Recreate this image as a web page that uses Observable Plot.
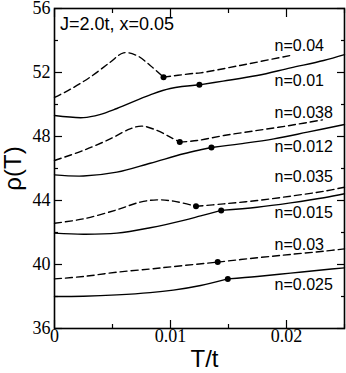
<!DOCTYPE html>
<html><head><meta charset="utf-8">
<script src="https://cdn.jsdelivr.net/npm/d3@7"></script>
<script src="https://cdn.jsdelivr.net/npm/@observablehq/plot@0.6"></script>
<style>html,body{margin:0;padding:0;background:#fff;overflow:hidden}</style>
</head><body><div id="chart"></div>
<script>
// ---- data ----
const title = "J=2.0t, x=0.05";
const xTitle = "T/t";
const yTitle = "ρ(T)";
const xTicks = [0, 0.01, 0.02];
const xTickLabels = ["0", "0.01", "0.02"];
const xMinor = [0.005, 0.015, 0.025];
const yTicks = [36, 40, 44, 48, 52, 56];
const yTickLabels = ["36", "40", "44", "48", "52", "56"];
const yMinor = [38, 42, 46, 50, 54];

const curveNames = ["n=0.04", "n=0.01", "n=0.038", "n=0.012", "n=0.035", "n=0.015", "n=0.03", "n=0.025"];
const curveDashed = [true, false, true, false, true, false, true, false];

const T_n040 = [0, 0.00134, 0.00307, 0.0048, 0.00595, 0.0071, 0.00825, 0.0094, 0.0117, 0.0126, 0.016, 0.0203];
const rho_n040 = [50.44, 50.94, 51.71, 52.64, 53.23, 53.06, 52.44, 51.71, 51.92, 51.98, 52.44, 53.06];
const T_n010 = [0, 0.0025, 0.0039, 0.00538, 0.00825, 0.00998, 0.01249, 0.01453, 0.01747, 0.02035, 0.0232, 0.025];
const rho_n010 = [49.31, 49.18, 49.37, 49.75, 50.6, 51.0, 51.23, 51.46, 51.81, 52.29, 52.75, 53.12];
const T_n038 = [0, 0.00249, 0.0048, 0.00652, 0.00754, 0.00883, 0.00998, 0.0108, 0.0123, 0.0146, 0.0175, 0.0203, 0.0231];
const rho_n038 = [46.5, 47.13, 47.85, 48.48, 48.65, 48.38, 47.96, 47.65, 47.75, 48.06, 48.38, 48.69, 49.04];
const T_n012 = [0, 0.00249, 0.00538, 0.00825, 0.01113, 0.0126, 0.01353, 0.016, 0.01891, 0.0218, 0.025];
const rho_n012 = [45.6, 45.53, 45.77, 46.33, 46.92, 47.17, 47.31, 47.54, 47.85, 48.27, 48.75];
const T_n035 = [0, 0.00249, 0.00538, 0.00739, 0.00883, 0.01027, 0.0122, 0.01459, 0.01747, 0.02035, 0.02323, 0.025];
const rho_n035 = [42.58, 42.85, 43.42, 43.9, 44.04, 43.96, 43.64, 43.79, 44.0, 44.27, 44.58, 44.83];
const T_n015 = [0, 0.00249, 0.00538, 0.00825, 0.01113, 0.0126, 0.01437, 0.01747, 0.02035, 0.02323, 0.025];
const rho_n015 = [41.96, 41.89, 41.96, 42.3, 42.76, 43.04, 43.38, 43.58, 43.85, 44.17, 44.42];
const T_n030 = [0, 0.00249, 0.00538, 0.00825, 0.01024, 0.01407, 0.01747, 0.02035, 0.02323, 0.025];
const rho_n030 = [39.1, 39.25, 39.52, 39.72, 39.87, 40.15, 40.42, 40.63, 40.83, 40.98];
const T_n025 = [0, 0.00249, 0.00538, 0.00825, 0.01024, 0.0126, 0.01494, 0.01747, 0.02035, 0.02323, 0.025];
const rho_n025 = [38.0, 38.02, 38.1, 38.24, 38.4, 38.69, 39.1, 39.25, 39.46, 39.67, 39.79];

const dotT = [0.0094, 0.01249, 0.0108, 0.01353, 0.0122, 0.01437, 0.01407, 0.01494];
const dotRho = [51.71, 51.23, 47.65, 47.31, 43.64, 43.38, 40.15, 39.1];

const labelT = [0.01897, 0.01897, 0.01897, 0.01897, 0.01897, 0.01897, 0.01897, 0.01897];
const labelRho = [53.67, 51.5, 49.45, 47.33, 45.46, 43.2, 41.24, 38.72];

// ---- build tables ----
const curveT = [T_n040, T_n010, T_n038, T_n012, T_n035, T_n015, T_n030, T_n025];
const curveRho = [rho_n040, rho_n010, rho_n038, rho_n012, rho_n035, rho_n015, rho_n030, rho_n025];
const solidPts = [], dashedPts = [];
curveT.forEach((Ts, i) => {
  const target = curveDashed[i] ? dashedPts : solidPts;
  Ts.forEach((t, j) => {
    if (t <= dotT[i]) target.push({T: t, rho: curveRho[i][j], seg: i + "a"});
    if (t >= dotT[i]) target.push({T: t, rho: curveRho[i][j], seg: i + "b"});
  });
});
const dots = dotT.map((t, i) => ({T: t, rho: dotRho[i]}));
const labels = curveNames.map((s, i) => ({T: labelT[i], rho: labelRho[i], text: s}));

const serif = "'Liberation Serif', 'Times New Roman', serif";
const sans = "'Liberation Sans', Arial, sans-serif";

const chart = Plot.plot({
  width: 346,
  height: 373,
  marginLeft: 54,
  marginRight: 2,
  marginTop: 8,
  marginBottom: 45,
  style: {background: "#fff", color: "#000"},
  x: {domain: [0, 0.025]},
  y: {domain: [36, 56]},
  marks: [
    Plot.line(solidPts, {x: "T", y: "rho", z: "seg", curve: "catmull-rom", stroke: "#000", strokeWidth: 1.4}),
    Plot.line(dashedPts, {x: "T", y: "rho", z: "seg", curve: "catmull-rom", stroke: "#000", strokeWidth: 1.4, strokeDasharray: "7,4"}),
    Plot.dot(dots, {x: "T", y: "rho", r: 3, fill: "#000", stroke: "none"}),
    Plot.text(labels, {x: "T", y: "rho", text: "text", textAnchor: "start", lineAnchor: "middle", fontSize: 16, fontFamily: sans, fill: "#000"}),
    Plot.text([title], {frameAnchor: "top-left", dx: 5.5, dy: 15.5, textAnchor: "start", lineAnchor: "middle", fontSize: 18, fontFamily: sans, fill: "#000"}),
    // tick labels
    Plot.axisX({anchor: "bottom", ticks: xTicks, tickSize: 0, tickPadding: 1, tickFormat: d => xTickLabels[xTicks.indexOf(d)], fontSize: 18, fontFamily: serif, label: null}),
    Plot.axisY({anchor: "left", ticks: yTicks, tickSize: 0, tickPadding: 4, tickFormat: d => yTickLabels[yTicks.indexOf(d)], fontSize: 18, fontFamily: serif, label: null}),
    // inward ticks
    Plot.axisX({anchor: "bottom", ticks: xTicks, tickSize: -8, tickFormat: () => "", label: null, strokeWidth: 1.2}),
    Plot.axisX({anchor: "bottom", ticks: xMinor, tickSize: -4, tickFormat: () => "", label: null, strokeWidth: 1.2}),
    Plot.axisX({anchor: "top", ticks: xTicks, tickSize: -8, tickFormat: () => "", label: null, strokeWidth: 1.2}),
    Plot.axisX({anchor: "top", ticks: xMinor, tickSize: -4, tickFormat: () => "", label: null, strokeWidth: 1.2}),
    Plot.axisY({anchor: "left", ticks: yTicks, tickSize: -8, tickFormat: () => "", label: null, strokeWidth: 1.2}),
    Plot.axisY({anchor: "left", ticks: yMinor, tickSize: -4, tickFormat: () => "", label: null, strokeWidth: 1.2}),
    Plot.axisY({anchor: "right", ticks: yTicks, tickSize: -8, tickFormat: () => "", label: null, strokeWidth: 1.2}),
    Plot.axisY({anchor: "right", ticks: yMinor, tickSize: -4, tickFormat: () => "", label: null, strokeWidth: 1.2}),
    Plot.frame({stroke: "#000", strokeWidth: 1.6}),
    // axis titles
    Plot.text([yTitle], {frameAnchor: "left", dx: -41, rotate: -90, textAnchor: "middle", lineAnchor: "middle", fontSize: 24, fontFamily: sans, fill: "#000"}),
    Plot.text([xTitle], {frameAnchor: "bottom", dx: 5, dy: 31, textAnchor: "middle", lineAnchor: "middle", fontSize: 24, fontFamily: sans, fill: "#000"})
  ]
});
document.getElementById("chart").appendChild(chart);
</script></body></html>
